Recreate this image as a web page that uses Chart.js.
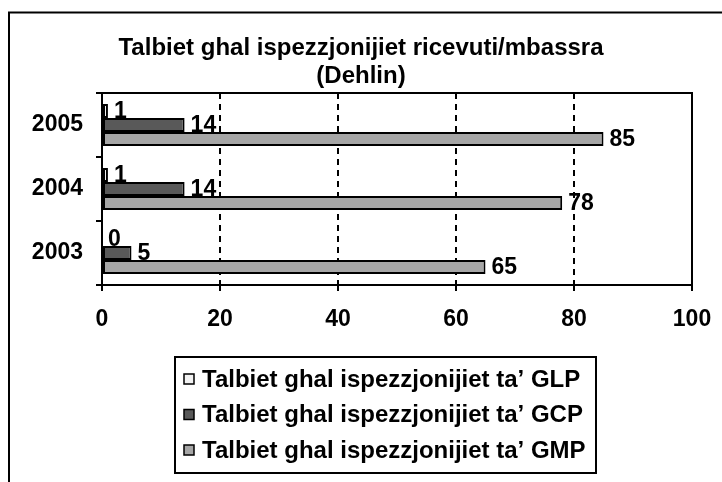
<!DOCTYPE html>
<html>
<head>
<meta charset="utf-8">
<script src="https://cdn.jsdelivr.net/npm/chart.js@4/dist/chart.umd.min.js"></script>
<style>
  html, body { margin: 0; padding: 0; background: #fff; }
  #wrap { width: 722px; height: 482px; }
</style>
</head>
<body>
<div id="wrap"><canvas id="chart"></canvas></div>
<script>
// data
const years = ['2005', '2004', '2003'];
const glp = [1, 1, 0];
const gcp = [14, 14, 5];
const gmp = [85, 78, 65];
const xTicks = [0, 20, 40, 60, 80, 100];
const seriesNames = [
  'Talbiet ghal ispezzjonijiet ta\u2019 GLP',
  'Talbiet ghal ispezzjonijiet ta\u2019 GCP',
  'Talbiet ghal ispezzjonijiet ta\u2019 GMP'
];
const seriesColors = ['#f2f2f2', '#595959', '#a6a6a6'];
const titleLines = ['Talbiet ghal ispezzjonijiet ricevuti/mbassra', '(Dehlin)'];

const FONT = '"Liberation Sans", Arial, sans-serif';

// outer frame, plot frame, value labels and the boxed legend
const extras = {
  id: 'extras',
  beforeDraw(chart) {
    const ctx = chart.ctx;
    ctx.save();
    ctx.strokeStyle = '#000';
    ctx.lineWidth = 2;
    ctx.beginPath();
    ctx.moveTo(9, chart.height);
    ctx.lineTo(9, 12.5);
    ctx.lineTo(chart.width, 12.5);
    ctx.stroke();
    ctx.restore();
  },
  afterDatasetsDraw(chart) {
    const ctx = chart.ctx;
    const a = chart.chartArea;
    ctx.save();
    ctx.strokeStyle = '#000';
    ctx.lineWidth = 2;
    ctx.beginPath();
    ctx.moveTo(a.left, a.top);
    ctx.lineTo(a.right, a.top);
    ctx.lineTo(a.right, a.bottom);
    ctx.stroke();

    ctx.fillStyle = '#000';
    ctx.font = 'bold 23px ' + FONT;
    ctx.textAlign = 'left';
    ctx.textBaseline = 'middle';
    chart.data.datasets.forEach((ds, i) => {
      chart.getDatasetMeta(i).data.forEach((bar, j) => {
        ctx.fillText(String(ds.data[j]), bar.x + 6, bar.y + 1);
      });
    });

    // legend
    const box = { x: 175, y: 357, w: 421, h: 116 };
    ctx.lineWidth = 2;
    ctx.strokeRect(box.x, box.y, box.w, box.h);
    ctx.font = 'bold 24px ' + FONT;
    chart.data.datasets.forEach((ds, i) => {
      const cy = 379 + i * 35.5;
      ctx.fillStyle = ds.backgroundColor;
      ctx.fillRect(184, cy - 5, 10, 10);
      ctx.lineWidth = 1.5;
      ctx.strokeRect(184, cy - 5, 10, 10);
      ctx.fillStyle = '#000';
      ctx.fillText(ds.label, 202, cy + 1);
    });
    ctx.restore();
  }
};

new Chart(document.getElementById('chart'), {
  type: 'bar',
  data: {
    labels: years,
    datasets: [glp, gcp, gmp].map((d, i) => ({
      label: seriesNames[i],
      data: d,
      backgroundColor: seriesColors[i],
      borderColor: '#000',
      borderWidth: 2,
      borderSkipped: false,
      categoryPercentage: 0.66,
      barPercentage: 1
    }))
  },
  options: {
    indexAxis: 'y',
    responsive: true,
    maintainAspectRatio: false,
    animation: false,
    layout: { padding: { left: 30, right: 30, top: 0, bottom: 0 } },
    plugins: {
      legend: { display: false },
      tooltip: { enabled: false },
      title: {
        display: true,
        text: titleLines,
        color: '#000',
        font: { family: FONT, size: 24, weight: 'bold', lineHeight: 28 / 24 },
        padding: { top: 34, bottom: 3 }
      }
    },
    scales: {
      x: {
        min: 0,
        max: 100,
        afterBuildTicks: s => { s.ticks = xTicks.map(v => ({ value: v })); },
        afterFit: s => { s.height = 197; },
        grid: {
          color: c => (c.tick && (c.tick.value === 0 || c.tick.value === 100)) ? 'rgba(0,0,0,0)' : '#000',
          lineWidth: 2,
          tickColor: '#000',
          tickWidth: 2,
          tickLength: 6
        },
        border: { color: '#000', width: 2, dash: [6, 5] },
        ticks: { color: '#000', padding: 10, font: { family: FONT, size: 23, weight: 'bold', lineHeight: 1.6 } }
      },
      y: {
        afterFit: s => { s.width = 72; },
        grid: {
          drawOnChartArea: false,
          color: '#000',
          lineWidth: 2,
          tickLength: 6
        },
        border: { color: '#000', width: 2 },
        ticks: { color: '#000', padding: 13, font: { family: FONT, size: 23, weight: 'bold' } }
      }
    }
  },
  plugins: [extras]
});
</script>
</body>
</html>
